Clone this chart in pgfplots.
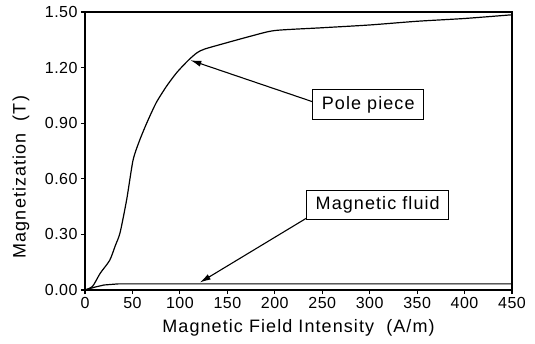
\documentclass[border=0pt]{standalone}
\usepackage{fontspec}
\setmainfont{Liberation Sans}
\usepackage{pgfplots}
\pgfplotsset{compat=1.18}
\usetikzlibrary{arrows.meta}
\begin{document}
\begin{tikzpicture}
\begin{axis}[
  scale only axis,
  width=427bp, height=278bp,
  xmin=0, xmax=450, ymin=0, ymax=1.5,
  xtick={0,50,...,450},
  ytick={0,0.3,0.6,0.9,1.2,1.5},
  yticklabel style={/pgf/number format/.cd,fixed,fixed zerofill,precision=2},
  /pgf/number format/assume math mode=true,
  tick align=outside,
  xtick pos=bottom, ytick pos=left,
  major tick length=4bp,
  tick style={line width=1.1bp, black},
  axis line style={line width=1.4bp},
  ticklabel style={font=\fontsize{16bp}{18bp}\selectfont\addfontfeatures{LetterSpace=3}},
  xlabel={Magnetic Field Intensity\ \ (A/m)},
  ylabel={Magnetization\ \ (T)},
  label style={font=\fontsize{18bp}{21bp}\selectfont\addfontfeatures{LetterSpace=6}},
  xlabel style={at={(axis description cs:0.5,-0.137)}, anchor=center},
  ylabel style={at={(axis description cs:-0.150,0.406)}, anchor=center},
  clip=false,
]
\addplot[black, line width=1.2bp, smooth, tension=0.4] coordinates {
  (0,0) (8,0.02) (16,0.09) (26,0.16) (32,0.24) (37,0.31) (44,0.49)
  (50.6,0.70) (57,0.80) (65,0.90) (75,1.01) (86,1.10) (97,1.175) (109,1.24) (118,1.28) (126,1.30)
  (150,1.335) (175,1.37) (200,1.40) (250,1.415) (300,1.43) (350,1.45) (400,1.465) (450,1.485)
};
\addplot[black, line width=1.2bp] coordinates {
  (0,0) (10,0.015) (20,0.027) (35,0.033) (100,0.033) (200,0.033) (300,0.033) (450,0.033)
};
\node[draw, line width=1bp, inner xsep=9bp, inner ysep=6.5bp, font=\fontsize{18bp}{21bp}\selectfont\addfontfeatures{LetterSpace=6}] (pp) at (axis cs:298.5,1.0) {Pole piece};
\node[draw, line width=1bp, inner xsep=9bp, inner ysep=6.5bp, font=\fontsize{18bp}{21bp}\selectfont\addfontfeatures{LetterSpace=6}] (mf) at (axis cs:308.5,0.459) {Magnetic fluid};
\draw[line width=1.1bp, -{Latex[length=11bp,width=6bp]}] (pp.west) ++(0,3bp) -- (axis cs:111,1.24);
\draw[line width=1.1bp, -{Latex[length=11bp,width=6bp]}] (mf.south west) ++(0,2bp) -- (axis cs:121,0.04);
\end{axis}
\useasboundingbox (-85bp,-54bp) rectangle (450bp,290bp);
\end{tikzpicture}
\end{document}
